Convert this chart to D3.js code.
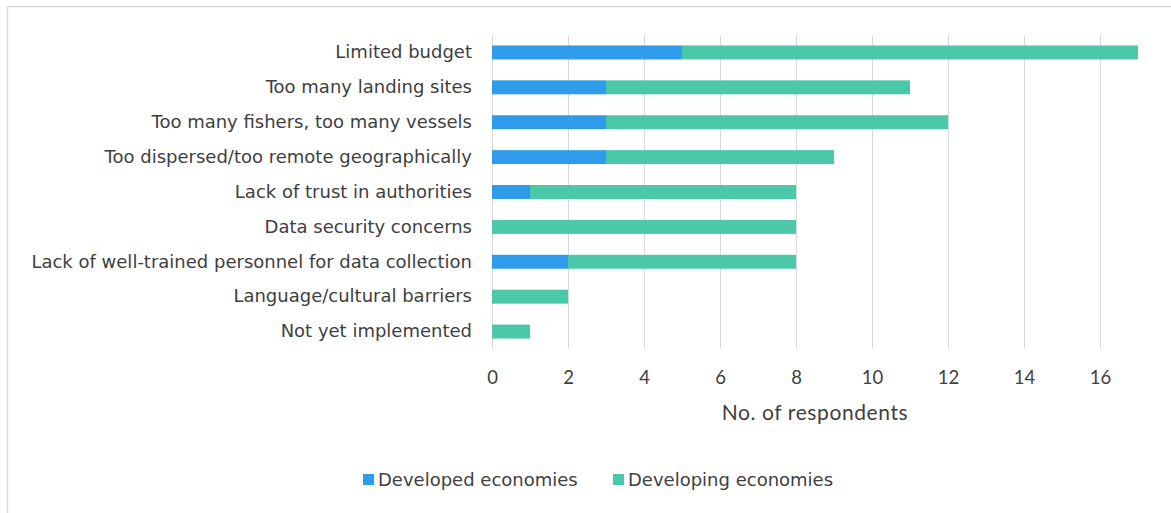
<!DOCTYPE html>
<html>
<head>
<meta charset="utf-8">
<script src="https://cdn.jsdelivr.net/npm/d3@7"></script>
<style>
  html, body { margin: 0; padding: 0; background: #fff; }
  svg { display: block; }
</style>
</head>
<body>
<svg id="chart" width="1171" height="513"></svg>
<script>
// Obstacles reported by respondents, split by economy type
const categories = [
  "Limited budget",
  "Too many landing sites",
  "Too many fishers, too many vessels",
  "Too dispersed/too remote geographically",
  "Lack of trust in authorities",
  "Data security concerns",
  "Lack of well-trained personnel for data collection",
  "Language/cultural barriers",
  "Not yet implemented"
];
const developed  = [5, 3, 3, 3, 1, 0, 2, 0, 0];
const developing = [12, 8, 9, 6, 7, 8, 6, 2, 1];
const seriesNames = ["Developed economies", "Developing economies"];
const xTicks = [0, 2, 4, 6, 8, 10, 12, 14, 16];
const axisTitle = "No. of respondents";

const colors = ["#2F9CEB", "#4BC8A8"];
const svg = d3.select("#chart");

// outer frame
svg.append("rect")
  .attr("x", 7.5).attr("y", 6.5)
  .attr("width", 1200).attr("height", 600)
  .attr("fill", "none").attr("stroke", "#d9d9d9").attr("stroke-width", 1.5);

const x = d3.scaleLinear().domain([0, 16]).range([492, 1100]);
const y = d3.scaleBand().domain(categories).range([35, 349]).paddingInner(0.6).paddingOuter(0.3);

// vertical gridlines
svg.append("g").selectAll("line").data(xTicks).join("line")
  .attr("x1", d => x(d) + 0.5).attr("x2", d => x(d) + 0.5)
  .attr("y1", 35).attr("y2", 349)
  .attr("stroke", "#d9d9d9").attr("stroke-width", 1);

// stacked bars
const rows = categories.map((c, i) => ({ cat: c, vals: [developed[i], developing[i]] }));
const stack = d3.stack().keys([0, 1]).value((d, k) => d.vals[k]);
const layers = stack(rows);

svg.append("g").selectAll("g").data(layers).join("g")
  .attr("fill", (d, i) => colors[i])
  .selectAll("rect").data(d => d).join("rect")
  .attr("x", d => x(d[0]))
  .attr("width", d => x(d[1]) - x(d[0]))
  .attr("y", d => y(d.data.cat))
  .attr("height", y.bandwidth());

// category labels
const yAxis = d3.axisLeft(y).tickSize(0).tickPadding(20);
const gy = svg.append("g").attr("transform", "translate(492,0)").call(yAxis);
gy.select(".domain").remove();
gy.selectAll("text")
  .attr("font-family", "'DejaVu Sans', sans-serif").attr("font-size", 18)
  .attr("fill", "#404040");

// x tick labels
const xAxis = d3.axisBottom(x).tickValues(xTicks).tickSize(0).tickPadding(0);
const gx = svg.append("g").attr("transform", "translate(0,371)").call(xAxis);
gx.select(".domain").remove();
gx.selectAll("text")
  .attr("font-family", "Lato, sans-serif").attr("font-size", 18.5)
  .attr("fill", "#404040");

// axis title
svg.append("text")
  .attr("x", 815).attr("y", 420)
  .attr("text-anchor", "middle")
  .attr("font-family", "Lato, sans-serif").attr("font-size", 21)
  .attr("letter-spacing", 0.6)
  .attr("fill", "#404040")
  .text(axisTitle);

// legend
const legendX = [363, 613];
const lg = svg.append("g").selectAll("g").data(seriesNames).join("g")
  .attr("transform", (d, i) => `translate(${legendX[i]},480)`);
lg.append("rect").attr("x", 0).attr("y", -6).attr("width", 11).attr("height", 11)
  .attr("fill", (d, i) => colors[i]);
lg.append("text").attr("x", 15).attr("y", 6)
  .attr("font-family", "'DejaVu Sans', sans-serif").attr("font-size", 18)
  .attr("fill", "#404040")
  .text(d => d);
</script>
</body>
</html>
